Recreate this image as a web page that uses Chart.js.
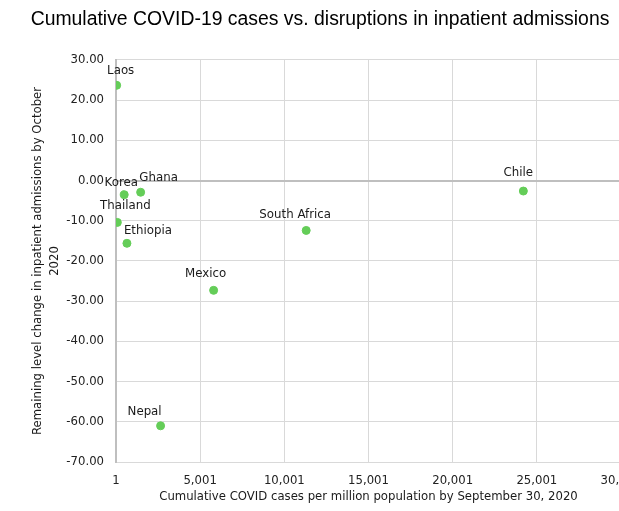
<!DOCTYPE html>
<html>
<head>
<meta charset="utf-8">
<script src="https://cdn.jsdelivr.net/npm/chart.js@4.4.0/dist/chart.umd.min.js"></script>
<style>
  html, body { margin: 0; padding: 0; background: #fff; overflow: hidden; }
  #wrap { width: 626px; height: 511px; }
</style>
</head>
<body>
<div id="wrap"><canvas id="scatterChart"></canvas></div>
<script>
// Data
const countries = ["Laos", "Korea", "Ghana", "Thailand", "Ethiopia", "Mexico", "South Africa", "Nepal", "Chile"];
const casesPerMillion = [40, 490, 1465, 80, 650, 5800, 11300, 2650, 24200];
const admissionChange = [23.7, -3.5, -2.9, -10.4, -15.6, -27.3, -12.4, -61.0, -2.6];
const xTicks = [1, 5001, 10001, 15001, 20001, 25001, 30001];

// label nudges so names sit where the reference puts them
const labelShift = {
  "Laos": [4, -14], "Korea": [-3, -12], "Ghana": [18, -14], "Thailand": [8, -16],
  "Ethiopia": [21, -12], "Mexico": [-8, -16], "South Africa": [-11, -16],
  "Nepal": [-16, -14], "Chile": [-5, -18],
};

const points = countries.map((c, i) => ({ x: casesPerMillion[i], y: admissionChange[i] }));

const pointLabels = {
  id: "pointLabels",
  afterDatasetsDraw(chart) {
    const ctx = chart.ctx;
    const meta = chart.getDatasetMeta(0);
    ctx.save();
    ctx.font = "11.8px 'DejaVu Sans'";
    ctx.fillStyle = "#1a1a1a";
    ctx.textAlign = "center";
    ctx.textBaseline = "middle";
    meta.data.forEach((el, i) => {
      const s = labelShift[countries[i]] || [0, -14];
      ctx.fillText(countries[i], el.x + s[0], el.y + s[1]);
    });
    ctx.restore();
  },
};

const tickFont = { family: "'DejaVu Sans'", size: 11.7 };

new Chart(document.getElementById("scatterChart"), {
  type: "scatter",
  data: {
    datasets: [
      {
        data: points,
        backgroundColor: "#64cd58",
        borderColor: "#64cd58",
        pointRadius: 4,
        pointHoverRadius: 4,
      },
    ],
  },
  options: {
    responsive: true,
    maintainAspectRatio: false,
    animation: false,
    layout: { padding: { left: 18, right: 4, top: 0, bottom: 0 } },
    plugins: {
      legend: { display: false },
      tooltip: { enabled: false },
      title: {
        display: true,
        text: "Cumulative COVID-19 cases vs. disruptions in inpatient admissions",
        color: "#000",
        font: { family: "'Liberation Sans'", size: 19.4, weight: "normal" },
        padding: { top: 8, bottom: 28.7 },
      },
    },
    scales: {
      x: {
        type: "linear",
        min: 1,
        max: 30001,
        afterBuildTicks: (s) => { s.ticks = xTicks.map((v) => ({ value: v })); },
        afterFit: (s) => { s.height = 49; s.paddingRight = 0; s.paddingLeft = 0; },
        ticks: {
          color: "#222",
          font: tickFont,
          padding: 12,
          maxRotation: 0,
          callback: (v) => v.toLocaleString("en-US"),
        },
        grid: { color: "#d9d9d9", drawTicks: false },
        border: { display: false },
        title: {
          display: true,
          text: "Cumulative COVID cases per million population by September 30, 2020",
          color: "#1a1a1a",
          font: tickFont,
          padding: { top: 0, bottom: 7 },
        },
      },
      y: {
        min: -70,
        max: 30,
        afterFit: (s) => { s.width = 98; },
        ticks: {
          stepSize: 10,
          color: "#222",
          font: tickFont,
          padding: 12,
          callback: (v) => v.toFixed(2),
        },
        grid: {
          drawTicks: false,
          color: (c) => (c.tick && c.tick.value === 0 ? "#bfbfbf" : "#d9d9d9"),
          lineWidth: (c) => (c.tick && c.tick.value === 0 ? 2 : 1),
        },
        border: { display: true, color: "#bfbfbf", width: 2 },
        title: {
          display: true,
          text: ["Remaining level change in inpatient admissions by October", "2020"],
          color: "#1a1a1a",
          font: { family: "'DejaVu Sans'", size: 11.7, lineHeight: 1.5 },
          padding: { top: 11, bottom: 0 },
        },
      },
    },
  },
  plugins: [pointLabels],
});
</script>
</body>
</html>
